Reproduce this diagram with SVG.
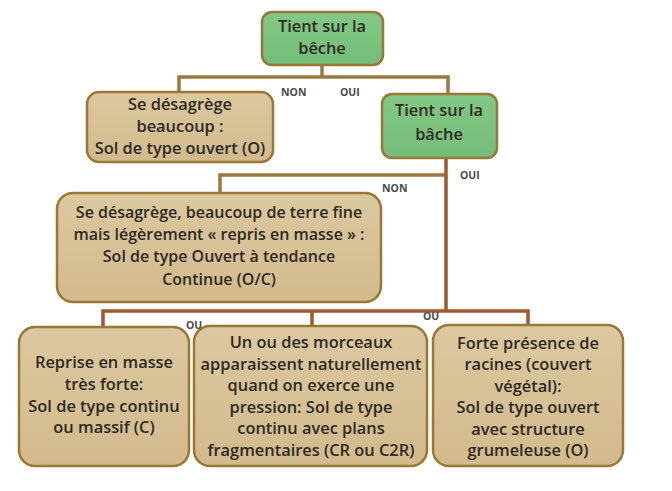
<svg xmlns="http://www.w3.org/2000/svg" width="672" height="491" viewBox="0 0 672 491">
<defs>
<linearGradient id="tan" x1="0" y1="0" x2="0" y2="1">
<stop offset="0" stop-color="#dcc8a0"/>
<stop offset="1" stop-color="#d2ba8c"/>
</linearGradient>
<linearGradient id="green" x1="0" y1="0" x2="0" y2="1">
<stop offset="0" stop-color="#82c886"/>
<stop offset="1" stop-color="#74bd78"/>
</linearGradient>
</defs>
<style>
.box{stroke:#9a7734;stroke-width:2.5}
.t{fill:url(#tan)}
.g{fill:url(#green)}
.txt{font-family:"Open Sans","DejaVu Sans",sans-serif;font-weight:600;font-size:16.4px;fill:#2e2a24;text-anchor:middle}
.sm{font-size:16px}
.lbl{font-family:"Open Sans","DejaVu Sans",sans-serif;font-weight:700;font-size:10.5px;fill:#4a4a4a}
.c1{stroke:#9a7a3e;stroke-width:3.5;fill:none}
.c2{stroke:#a0582c;stroke-width:3.5;fill:none}
</style>
<rect width="672" height="491" fill="#ffffff"/>
<g id="connectors">
<path class="c1" d="M322 65V77M179 92V77H448V94"/>
<path class="c1" d="M220 193V175H446"/>
<path class="c2" d="M446 158V311"/>
<path class="c2" d="M103 327V311H528V325M312 311V325"/>
</g>
<g id="labels">
<text class="lbl" x="281" y="96">NON</text>
<text class="lbl" x="340" y="96">OUI</text>
<text class="lbl" x="460" y="179">OUI</text>
<text class="lbl" x="382" y="192">NON</text>
<text class="lbl" x="186" y="329">OU</text>
<text class="lbl" x="423" y="320">OU</text>
</g>
<g id="n1">
<rect class="box g" x="262" y="12" width="121" height="53" rx="10"/>
<text class="txt"><tspan x="322" y="32">Tient sur la</tspan><tspan x="322" y="54">bêche</tspan></text>
</g>
<g id="n2">
<rect class="box t" x="87" y="92" width="186" height="70" rx="12"/>
<text class="txt"><tspan x="180" y="110">Se désagrège</tspan><tspan x="180" y="132">beaucoup :</tspan><tspan x="180" y="154">Sol de type ouvert (O)</tspan></text>
</g>
<g id="n3">
<rect class="box g" x="382" y="94" width="115" height="64" rx="10"/>
<text class="txt"><tspan x="439" y="116">Tient sur la</tspan><tspan x="439" y="140">bâche</tspan></text>
</g>
<g id="n4">
<rect class="box t" x="57" y="193" width="324" height="109" rx="16"/>
<text class="txt sm"><tspan x="219" y="218">Se désagrège, beaucoup de terre fine</tspan><tspan x="219" y="240">mais légèrement « repris en masse » :</tspan><tspan x="219" y="262">Sol de type Ouvert à tendance</tspan><tspan x="219" y="285">Continue (O/C)</tspan></text>
</g>
<g id="n5">
<rect class="box t" x="19" y="327" width="170" height="139" rx="16"/>
<text class="txt"><tspan x="104" y="368">Reprise en masse</tspan><tspan x="104" y="390">très forte:</tspan><tspan x="104" y="412">Sol de type continu</tspan><tspan x="104" y="433">ou massif (C)</tspan></text>
</g>
<g id="n6">
<rect class="box t" x="194" y="326" width="233" height="140" rx="16"/>
<text class="txt"><tspan x="311" y="348">Un ou des morceaux</tspan><tspan x="311" y="370">apparaissent naturellement</tspan><tspan x="311" y="391">quand on exerce une</tspan><tspan x="311" y="413">pression: Sol de type</tspan><tspan x="311" y="434">continu avec plans</tspan><tspan x="311" y="456">fragmentaires (CR ou C2R)</tspan></text>
</g>
<g id="n7">
<rect class="box t" x="433" y="325" width="190" height="141" rx="16"/>
<text class="txt"><tspan x="528" y="349">Forte présence de</tspan><tspan x="528" y="370">racines (couvert</tspan><tspan x="528" y="392">végétal):</tspan><tspan x="528" y="413">Sol de type ouvert</tspan><tspan x="528" y="435">avec structure</tspan><tspan x="528" y="456">grumeleuse (O)</tspan></text>
</g>
</svg>
